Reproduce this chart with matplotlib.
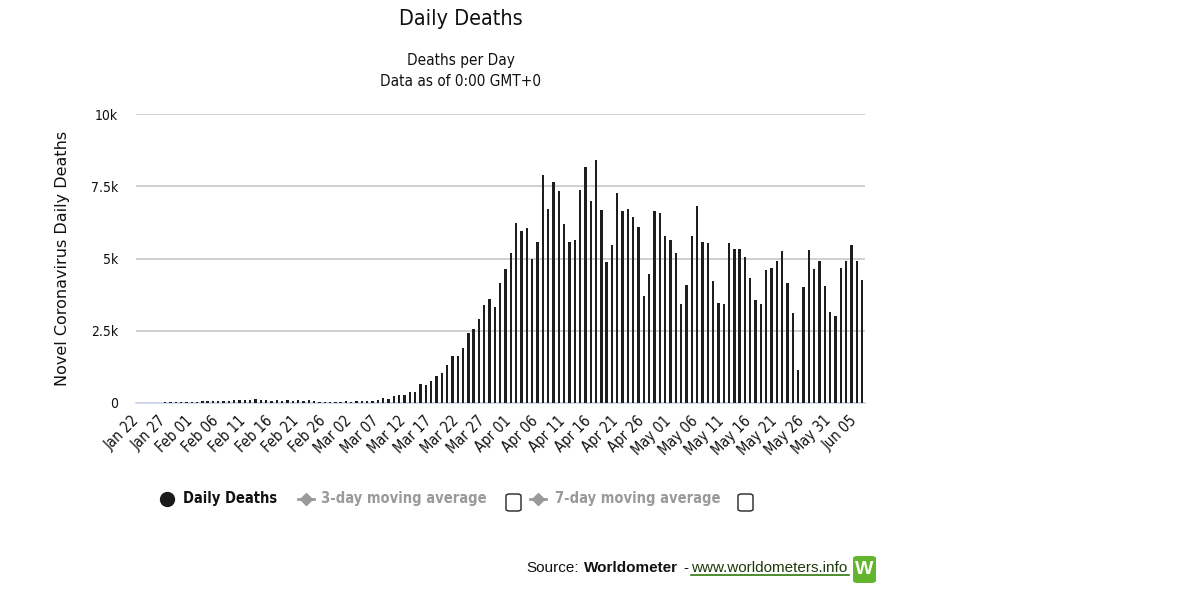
import matplotlib
matplotlib.use("Agg")
import matplotlib.pyplot as plt
import matplotlib.transforms as mtransforms
from matplotlib.lines import Line2D
from matplotlib.patches import FancyBboxPatch
import pandas as pd

# muertes diarias globales, 22 ene -> 05 jun 2020
start_date = "2020-01-22"
daily_deaths = [
    0, 8, 16, 15, 24, 26, 26, 38, 43, 46,                      # ene 22-31
    45, 57, 64, 66, 73, 73, 86, 89, 97, 108,                   # feb 01-10
    120, 130, 120, 100, 70, 95, 60, 110, 75, 110,              # feb 11-20
    80, 110, 70, 30, 35, 40, 45, 40, 60,                       # feb 21-29
    35, 70, 75, 85, 80, 90, 190, 150, 240, 290,                # mar 01-10
    290, 380, 380, 660, 610, 760, 945, 1050, 1330, 1620,       # mar 11-20
    1620, 1900, 2410, 2550, 2890, 3400, 3600, 3310, 4140, 4650, 5180,  # mar 21-31
    6240, 5960, 6040, 5000, 5570, 7880, 6700, 7660, 7330, 6180,  # abr 01-10
    5570, 5630, 7370, 8180, 6990, 8410, 6670, 4870, 5480, 7280,  # abr 11-20
    6655, 6700, 6420, 6100, 3715, 4480, 6655, 6575, 5765, 5625,  # abr 21-30
    5200, 3425, 4100, 5765, 6805, 5580, 5520, 4235, 3470, 3425,  # mai 01-10
    5520, 5335, 5335, 5035, 4340, 3575, 3435, 4585, 4665, 4905,  # mai 11-20
    5245, 4155, 3100, 1155, 4015, 5290, 4620, 4905, 4065, 3150, 3010,  # mai 21-31
    4665, 4905, 5475, 4905, 4245,                              # jun 01-05
]
y_ticks = [0, 2500, 5000, 7500, 10000]
y_tick_labels = ["0", "2.5k", "5k", "7.5k", "10k"]
label_step = 5

dates = pd.date_range(start_date, periods=len(daily_deaths), freq="D")
xs = list(range(len(daily_deaths)))

W, H = 1200, 600
fig = plt.figure(figsize=(W / 100, H / 100), dpi=100)
fig.patch.set_facecolor("white")

# fonte do Highcharts é mais estreita; usa a versão condensada do DejaVu
cond = dict(family="DejaVu Sans", fontstretch="condensed")


def fx(px):
    return px / W


def fy(py):
    return 1 - py / H


# area do plot em pixels: x 136..865, y 114..403
ax = fig.add_axes([fx(136), fy(403), fx(865 - 136), (403 - 114) / H])
ax.bar(xs, daily_deaths, width=0.45, color="#1e1e1e", zorder=3)

ax.set_xlim(-1.47, len(daily_deaths) - 1 + 0.56)
ax.set_ylim(0, 10000)
ax.set_yticks(y_ticks)
ax.set_yticklabels(y_tick_labels, **cond)
ax.yaxis.grid(True, color="#c8c8c8", linewidth=1.2, zorder=0)
for side in ("left", "right", "top"):
    ax.spines[side].set_visible(False)
ax.spines["bottom"].set_color("#ccd6eb")
ax.spines["bottom"].set_linewidth(1.2)
ax.tick_params(axis="y", length=0, pad=13, labelsize=10, labelcolor="#111111")
ax.tick_params(axis="x", length=0, pad=11, labelsize=10.5, labelcolor="#111111")

tick_pos = xs[::label_step]
ax.set_xticks(tick_pos)
ax.set_xticklabels([dates[i].strftime("%b %d") for i in tick_pos],
                   rotation=45, ha="right", va="center", rotation_mode="anchor",
                   **cond)
# desloca os rótulos um pouco pra esquerda, como no original
shift = mtransforms.ScaledTranslation(-7 / 100, 0, fig.dpi_scale_trans)
for lab in ax.get_xticklabels():
    lab.set_transform(lab.get_transform() + shift)

ax.set_ylabel("Novel Coronavirus Daily Deaths", fontsize=11.5, color="#111111")
ax.yaxis.set_label_coords((70 - 136) / 729, 0.5)

# títulos
fig.text(fx(461), fy(19), "Daily Deaths", ha="center", va="center",
         fontsize=15.5, color="#111111", **cond)
fig.text(fx(461), fy(61), "Deaths per Day", ha="center", va="center",
         fontsize=11, color="#111111", **cond)
fig.text(fx(461), fy(81), "Data as of 0:00 GMT+0", ha="center", va="center",
         fontsize=11, color="#111111", **cond)

# legenda feita à mão (é o que o Highcharts desenha)
ly = fy(499)
fig.add_artist(Line2D([fx(167)], [ly], marker="o", markersize=10,
                      color="#1a1a1a", transform=fig.transFigure))
fig.text(fx(183), ly, "Daily Deaths", ha="left", va="center",
         fontsize=10.5, fontweight="bold", color="#111111", **cond)

grey = "#9a9a9a"
for mx, tx, bx, txt in [(306, 321, 506, "3-day moving average"),
                        (538, 555, 738, "7-day moving average")]:
    fig.add_artist(Line2D([fx(mx - 8), fx(mx + 8)], [ly, ly], color=grey,
                          linewidth=2, transform=fig.transFigure))
    fig.add_artist(Line2D([fx(mx)], [ly], marker="D", markersize=6, color=grey,
                          transform=fig.transFigure))
    fig.text(fx(tx), ly, txt, ha="left", va="center", fontsize=10.5,
             fontweight="bold", color=grey, **cond)
    fig.add_artist(FancyBboxPatch((fx(bx), fy(511)), fx(15), 17 / H,
                                  boxstyle="round,pad=0,rounding_size=0.003",
                                  facecolor="white", edgecolor="#222222",
                                  linewidth=1, transform=fig.transFigure))

# fonte dos dados
sy = fy(568)
src_font = ["Liberation Sans Narrow", "Liberation Sans", "DejaVu Sans"]
fig.text(fx(526), sy, "Source:", ha="left", va="center", fontsize=11,
         family=src_font, color="#111111")
fig.text(fx(584), sy, "Worldometer", ha="left", va="center", fontsize=11,
         family=src_font, fontweight="bold", color="#111111")
fig.text(fx(683), sy, "-", ha="left", va="center", fontsize=11,
         family=src_font, color="#111111")
fig.text(fx(691), sy, "www.worldometers.info", ha="left", va="center",
         fontsize=11, family=src_font, color="#1f3a0a")
fig.add_artist(Line2D([fx(691), fx(849)], [fy(575), fy(575)], color="#2d7a0a",
                      linewidth=1.2, transform=fig.transFigure))
fig.add_artist(FancyBboxPatch((fx(853), fy(583)), fx(23), 27 / H,
                              boxstyle="round,pad=0,rounding_size=0.004",
                              facecolor="#62b52c", edgecolor="none",
                              transform=fig.transFigure))
fig.text(fx(864.5), fy(569), "W", ha="center", va="center", fontsize=14,
         fontweight="bold", color="white", family=src_font)

fig.savefig("out.png", dpi=100)
